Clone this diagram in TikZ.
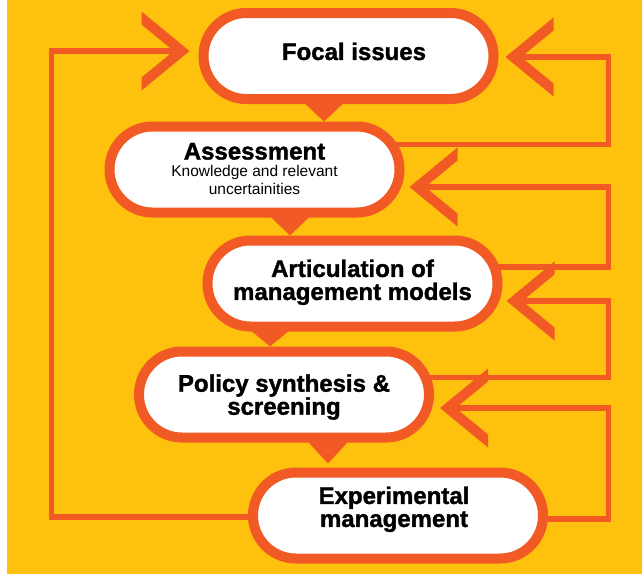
\documentclass[tikz,border=0pt]{standalone}
\usepackage{fontspec}
\setmainfont{Liberation Sans}[BoldFeatures={FakeBold=1.5}]
\usetikzlibrary{calc}
\definecolor{bgyellow}{RGB}{254,193,14}
\definecolor{orng}{RGB}{241,90,36}
\pgfdeclarelayer{back}
\pgfsetlayers{back,main}
\newcommand\smalltxt{\fontsize{15.5}{18}\selectfont\mdseries}
\newcommand\mychev[2]{\fill[orng] (#1) -- ++({-(#2)*48},-39.5) -- ++(0,13) -- ++({(#2)*32.2},26.5) -- ++({-(#2)*32.2},26.5) -- ++(0,13) -- cycle;}
\newcommand\mytri[5]{\fill[orng] ($(#1.south)+(#2-24,-5)$) -- ($(#1.south)+(#2+24,-5)$) -- ($(#3.north)+(#4,#5)$) -- cycle;}
\begin{document}
\begin{tikzpicture}[x=1pt,y=-1pt,
  box/.style={draw=orng, line width=10pt, fill=white, rounded corners=42.9pt,
    minimum width=290pt, minimum height=86pt, inner sep=0pt, align=center,
    font=\fontsize{24}{23}\selectfont\bfseries},
  conn/.style={draw=orng, line width=5.5pt, line join=miter}]
\useasboundingbox (0,0) rectangle (642,576);
\begin{pgfonlayer}{back}
\fill[bgyellow] (7,0) rectangle (642,574);
\end{pgfonlayer}

\node[box, text depth=9.5pt] (f) at (348.5,56) {\hspace*{11pt}Focal issues};
\node[box, text depth=1.5pt] (a) at (254.5,169.5) {Assessment\\[-6.3pt]\smalltxt Knowledge and relevant\\[-4.7pt]\smalltxt uncertainities};
\node[box, text depth=7.5pt] (r) at (352.5,283.5) {Articulation of\\management models};
\node[box, text depth=0pt] (p) at (284,394.5) {Policy synthesis \&\\screening};
\node[box, text depth=17.5pt] (e) at (398,515.5) {Experimental\hspace*{8pt}\\management\hspace*{8pt}};

% flow triangles
\mytri{f}{-24.5}{a}{69.5}{0}
\mytri{a}{35.5}{r}{-62.5}{0}
\mytri{r}{-82.5}{p}{-14}{0}
\mytri{p}{44}{e}{-70}{-4}

% chevron tips
\coordinate (c0) at ($(f.west)+(-9,-5)$);
\coordinate (c1) at ($(f.east)+(7,1)$);
\coordinate (c2) at ($(a.east)+(5,17.5)$);
\coordinate (c3) at ($(r.east)+(4,17.5)$);
\coordinate (c4) at ($(p.east)+(6,13.5)$);
\coordinate (rx) at (608.5,0);
\coordinate (lx) at (51.5,0);

\begin{pgfonlayer}{back}
\draw[conn] ($(e.west)+(30,1.5)$) -| (lx |- c0) -- ($(c0)+(-10,0)$);
\draw[conn] ($(a.east)+(-30,-25)$) -| (rx |- c1) -- ($(c1)+(10,0)$);
\draw[conn] ($(r.east)+(-30,-16.5)$) -| (rx |- c2) -- ($(c2)+(10,0)$);
\draw[conn] ($(p.east)+(-30,-17)$) -| (rx |- c3) -- ($(c3)+(10,0)$);
\draw[conn] ($(e.east)+(-30,3.5)$) -| (rx |- c4) -- ($(c4)+(10,0)$);
\end{pgfonlayer}

\mychev{c0}{1}
\mychev{c1}{-1}
\mychev{c2}{-1}
\mychev{c3}{-1}
\mychev{c4}{-1}
\end{tikzpicture}
\end{document}
